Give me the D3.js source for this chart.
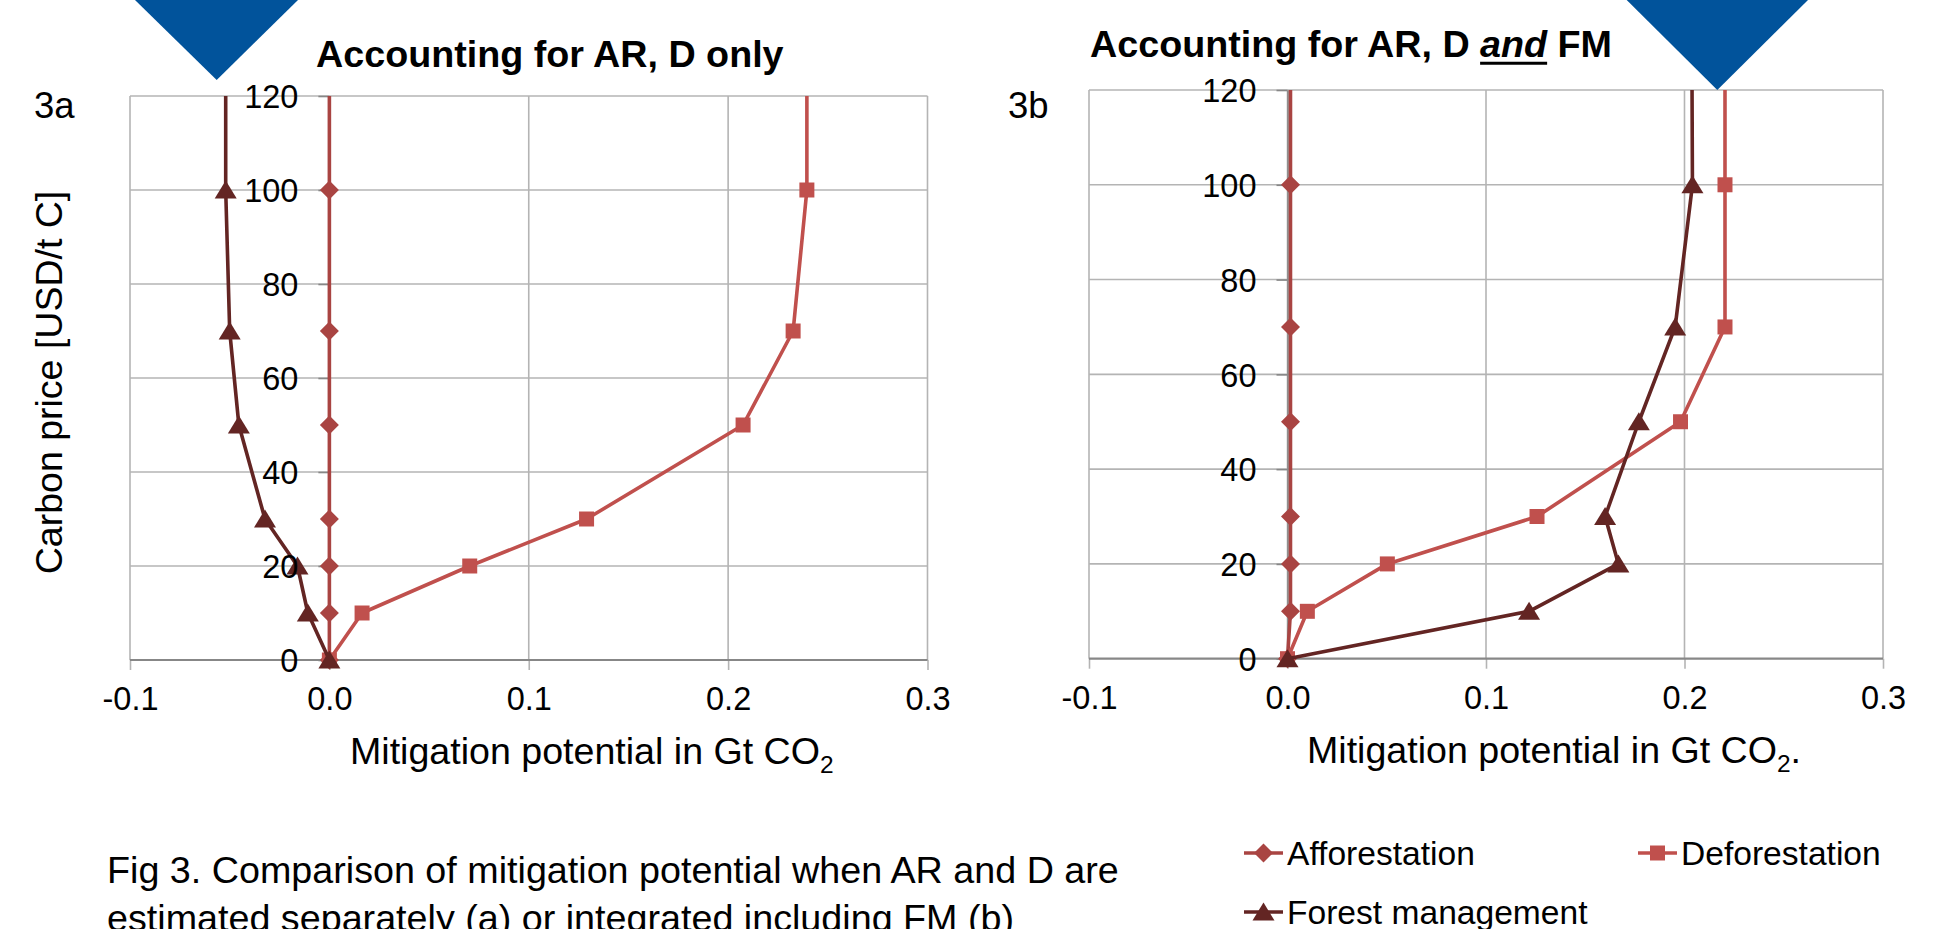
<!DOCTYPE html>
<html><head><meta charset="utf-8">
<script src="https://cdn.jsdelivr.net/npm/d3@7"></script>
<style>
html,body{margin:0;padding:0;background:#fff;overflow:hidden;}
svg{display:block;}
text{font-family:"Liberation Sans",Arial,sans-serif;}
</style>
</head><body>
<svg id="chart" width="1946" height="929"></svg>
<script>
// ---------------- data ----------------
const prices = [0, 10, 20, 30, 50, 70, 100, 150];
const afforestationA = [0, 0, 0, 0, 0, 0, 0, 0];
const deforestationA = [0, 0.0164, 0.0704, 0.129, 0.2075, 0.2326, 0.2395, 0.2395];
const forestMgmtA   = [0, -0.0108, -0.016, -0.0323, -0.0454, -0.0500, -0.0520, -0.0520];
const afforestationB = [0, 0.0015, 0.0015, 0.0015, 0.0015, 0.0015, 0.0015, 0.0015];
const deforestationB = [0, 0.0100, 0.0503, 0.1257, 0.1980, 0.2204, 0.2204, 0.2204];
const forestMgmtB   = [0, 0.1217, 0.1667, 0.1600, 0.1770, 0.1953, 0.2040, 0.2035];
const xTicks = [-0.1, 0.0, 0.1, 0.2, 0.3];
const yTicks = [0, 20, 40, 60, 80, 100, 120];
const seriesNames = ["Afforestation", "Deforestation", "Forest management"];
const captionLines = [
  "Fig 3. Comparison of mitigation potential when AR and D are",
  "estimated separately (a) or integrated including FM (b)"
];

// ---------------- styles ----------------
const seriesColors = ["#A94442", "#C0504D", "#632523"];
const seriesSymbols = ["diamond", "square", "triangle"];
const FONT = '"Liberation Sans", Arial, sans-serif';
const gridColor = "#B4B4B4";
const axisColor = "#878787";

function markerPath(kind) {
  if (kind === "diamond") return "M0,-9.5L9.5,0L0,9.5L-9.5,0Z";
  if (kind === "square") return "M-7.5,-7.5H7.5V7.5H-7.5Z";
  return "M0,-9.5L11,8.5L-11,8.5Z";
}

const svg = d3.select("#chart");
svg.append("rect").attr("width", 1946).attr("height", 929).attr("fill", "#fff");

const panels = [
  { key: "a", left: 130, right: 927.5, top: 96, bottom: 660,
    values: [afforestationA, deforestationA, forestMgmtA],
    label: "3a", labelX: 34, labelY: 118,
    titleX: 316, titleY: 67, titleParts: [{t: "Accounting for AR, D only"}],
    xTitleX: 350, xTitleY: 764, xTitleTail: "" },
  { key: "b", left: 1089, right: 1883, top: 90, bottom: 658.7,
    values: [afforestationB, deforestationB, forestMgmtB],
    label: "3b", labelX: 1008, labelY: 118,
    titleX: 1090, titleY: 56.7,
    titleParts: [{t: "Accounting for AR, D "}, {t: "and", italic: true, underline: true}, {t: " FM"}],
    xTitleX: 1307, xTitleY: 763, xTitleTail: "." }
];

panels.forEach(p => {
  const x = d3.scaleLinear().domain([xTicks[0], xTicks[xTicks.length - 1]]).range([p.left, p.right]);
  const y = d3.scaleLinear().domain([yTicks[0], yTicks[yTicks.length - 1]]).range([p.bottom, p.top]);
  const g = svg.append("g").attr("class", "panel-" + p.key);

  // gridlines
  g.append("g").selectAll("line.h").data(yTicks.filter(v => v !== 0)).join("line")
    .attr("x1", p.left).attr("x2", p.right)
    .attr("y1", d => y(d)).attr("y2", d => y(d))
    .attr("stroke", gridColor).attr("stroke-width", 1.6);
  g.append("g").selectAll("line.v").data(xTicks).join("line")
    .attr("x1", d => x(d)).attr("x2", d => x(d))
    .attr("y1", p.top).attr("y2", p.bottom)
    .attr("stroke", gridColor).attr("stroke-width", 1.6);

  // x axis (ticks below zero line + labels)
  const xAxis = g.append("g").attr("transform", `translate(0,${y(0)})`)
    .call(d3.axisBottom(x).tickValues(xTicks).tickSize(10).tickSizeOuter(0).tickPadding(17)
      .tickFormat(d => d.toFixed(1)));
  xAxis.select(".domain").remove();
  xAxis.selectAll(".tick line").attr("stroke", gridColor).attr("stroke-width", 1.6);
  xAxis.selectAll(".tick text").attr("font-size", 32.5).attr("font-family", FONT).attr("fill", "#000");

  // zero line
  g.append("line").attr("x1", p.left).attr("x2", p.right)
    .attr("y1", y(0)).attr("y2", y(0))
    .attr("stroke", axisColor).attr("stroke-width", 2.2);

  // y axis line and tick marks at x = 0
  const yAxisLines = g.append("g").attr("transform", `translate(${x(0)},0)`)
    .call(d3.axisLeft(y).tickValues(yTicks).tickSize(11).tickSizeOuter(0).tickFormat(""));
  yAxisLines.select(".domain").attr("stroke", axisColor).attr("stroke-width", 1.6);
  yAxisLines.selectAll(".tick line").attr("stroke", axisColor).attr("stroke-width", 1.6);

  // series
  const clipId = "clip-" + p.key;
  svg.append("clipPath").attr("id", clipId).append("rect")
    .attr("x", p.left - 50).attr("y", p.top).attr("width", p.right - p.left + 100)
    .attr("height", p.bottom - p.top + 50);
  const line = d3.line().x(d => x(d.v)).y(d => y(d.p));
  p.values.forEach((vals, i) => {
    const pts = prices.map((pr, j) => ({ p: pr, v: vals[j] }));
    g.append("path").datum(pts).attr("d", line)
      .attr("fill", "none").attr("stroke", seriesColors[i]).attr("stroke-width", 3.6)
      .attr("stroke-linejoin", "round").attr("clip-path", `url(#${clipId})`);
    g.append("g").selectAll("path").data(pts.filter(d => d.p <= yTicks[yTicks.length - 1])).join("path")
      .attr("d", markerPath(seriesSymbols[i]))
      .attr("transform", d => `translate(${x(d.v)},${y(d.p)})`)
      .attr("fill", seriesColors[i]);
  });

  // y tick labels (drawn over series)
  const yLabels = g.append("g").attr("transform", `translate(${x(0)},0)`)
    .call(d3.axisLeft(y).tickValues(yTicks).tickSize(11).tickPadding(20).tickFormat(d3.format("d")));
  yLabels.select(".domain").remove();
  yLabels.selectAll(".tick line").remove();
  yLabels.selectAll(".tick text").attr("font-size", 32.5).attr("font-family", FONT).attr("fill", "#000")
    .attr("dy", "0.36em");

  // panel label
  svg.append("text").attr("x", p.labelX).attr("y", p.labelY).attr("font-size", 36.5).text(p.label);

  // title
  const title = svg.append("text").attr("x", p.titleX).attr("y", p.titleY)
    .attr("font-size", 37.7).attr("font-weight", "bold").attr("fill", "#000")
    .style("white-space", "pre");
  p.titleParts.forEach(part => {
    const ts = title.append("tspan").text(part.t);
    if (part.italic) ts.attr("font-style", "italic");
    if (part.underline) {
      const node = ts.node();
      const start = node.getStartPositionOfChar(0).x;
      const len = node.getComputedTextLength();
      svg.append("line").attr("x1", start).attr("x2", start + len)
        .attr("y1", p.titleY + 6.5).attr("y2", p.titleY + 6.5)
        .attr("stroke", "#000").attr("stroke-width", 3);
    }
  });

  // x axis title
  const xt = svg.append("text").attr("x", p.xTitleX).attr("y", p.xTitleY).attr("font-size", 37.6);
  xt.append("tspan").text("Mitigation potential in Gt CO");
  xt.append("tspan").attr("font-size", 24.5).attr("dy", 9).text("2");
  if (p.xTitleTail) xt.append("tspan").attr("dy", -9).text(p.xTitleTail);
});

// y axis title
svg.append("text").attr("transform", "translate(62,382.5) rotate(-90)")
  .attr("text-anchor", "middle").attr("font-size", 37.5).text("Carbon price [USD/t C]");

// legend
const legendItems = [
  { x: 1244, y: 853 }, { x: 1638, y: 853 }, { x: 1244, y: 912 }
];
seriesNames.forEach((name, i) => {
  const it = legendItems[i];
  const lg = svg.append("g").attr("transform", `translate(${it.x},${it.y})`);
  lg.append("line").attr("x1", 0).attr("x2", 39).attr("y1", 0).attr("y2", 0)
    .attr("stroke", seriesColors[i]).attr("stroke-width", 3.6);
  lg.append("path").attr("d", markerPath(seriesSymbols[i])).attr("transform", "translate(19.5,0)")
    .attr("fill", seriesColors[i]);
  lg.append("text").attr("x", 43).attr("y", 0).attr("dy", "0.36em").attr("font-size", 33.6).text(name);
});

// caption (second line is cut by the lower edge, as in the source figure)
captionLines.forEach((t, i) => {
  svg.append("text").attr("x", 107).attr("y", 883 + i * 48).attr("font-size", 37.7).text(t);
});

// decorative blue markers
const blue = "#01539B";
svg.append("path").attr("d", "M135,0L298,0L216.7,80Z").attr("fill", blue);
svg.append("path").attr("d", "M1626.7,0L1808,0L1717.3,90Z").attr("fill", blue);
</script>
</body></html>
